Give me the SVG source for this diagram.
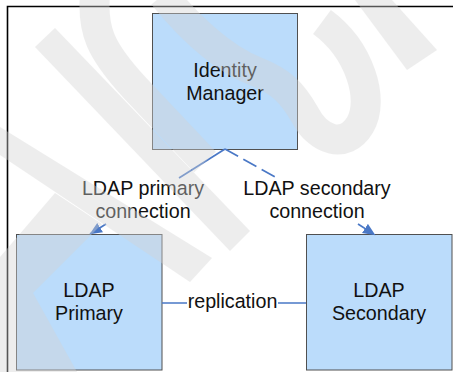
<svg xmlns="http://www.w3.org/2000/svg" width="453" height="372" viewBox="0 0 453 372">
<defs>
<style>
.box{fill:#bbdcfb;stroke:#505050;stroke-width:1}
.t{font-family:"Liberation Sans",Arial,sans-serif;font-size:19.7px;fill:#111;text-anchor:middle}
.conn{stroke:#4a78c6;stroke-width:1.7;fill:none}
.dash{stroke-dasharray:15 6}
</style>
<marker id="ah" markerUnits="userSpaceOnUse" markerWidth="13" markerHeight="12" viewBox="0 0 13 12" refX="12" refY="6" orient="auto">
<path d="M0,0.5 L12.5,6 L0,11.5 Z" fill="#4a78c6"/>
</marker>
</defs>
<rect width="453" height="372" fill="#fff"/>
<path d="M7.5,372 V6.5 H453" fill="none" stroke="#000" stroke-width="1.6"/>

<g id="identity-manager">
<rect class="box" x="152.5" y="13.5" width="145" height="136"/>
<text class="t" x="225" y="76.5">Identity</text>
<text class="t" x="225" y="99.5">Manager</text>
</g>
<g id="ldap-primary">
<rect class="box" x="16.5" y="234.5" width="145.5" height="135.5"/>
<text class="t" x="89" y="296.5">LDAP</text>
<text class="t" x="89" y="319.5">Primary</text>
</g>
<g id="ldap-secondary">
<rect class="box" x="306.5" y="234.5" width="145.5" height="135.5"/>
<text class="t" x="379" y="296.5">LDAP</text>
<text class="t" x="379" y="319.5">Secondary</text>
</g>

<g id="connectors">
<path class="conn" d="M225,149 L179,178"/>
<path class="conn" d="M106,224 L90,234" marker-end="url(#ah)"/>
<text class="t" x="143" y="195">LDAP primary</text>
<text class="t" x="143" y="218">connection</text>
<path class="conn dash" d="M225,149 L275,177"/>
<path class="conn dash" d="M358,224 L375,235" marker-end="url(#ah)"/>
<text class="t" x="317" y="195">LDAP secondary</text>
<text class="t" x="317" y="218">connection</text>
<path class="conn" d="M162,303 H187 M278,303 H306"/>
<text class="t" x="232.5" y="308">replication</text>
</g>

<g id="watermark" opacity="0.4" fill="#d4d4d4" stroke="#d4d4d4">
<polygon stroke="none" points="35,47 55,28 250,231 230,251"/>
<path fill="none" stroke-width="30" d="M95,-5 C92,30 100,50 135,88 L205,162"/>
<polygon stroke="none" points="0,127 0,155 190,282 212,258"/>
<polygon stroke="none" points="0,257 55,193 102,224 33,293 77,372 0,372"/>
<polygon stroke="none" points="355,0 392,0 437,50 407,70"/>
<path fill="none" stroke-width="30" d="M163,-5 C185,22 220,58 257,72 C280,81 292,92 305,115 C318,140 345,150 360,125 C375,100 360,50 322,22"/>
</g>
</svg>
